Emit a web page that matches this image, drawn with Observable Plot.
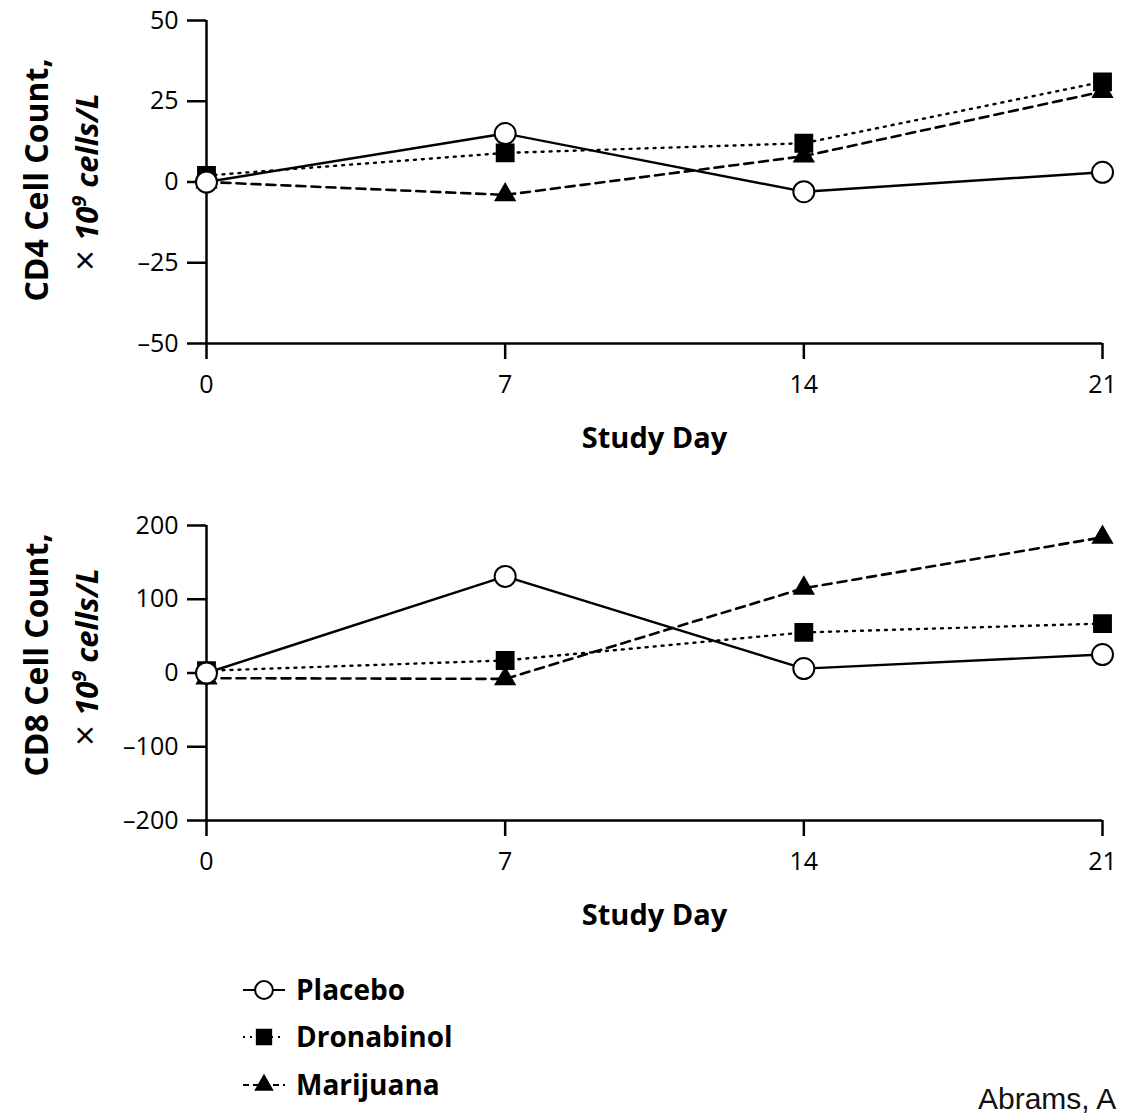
<!DOCTYPE html>
<html><head><meta charset="utf-8">
<script src="https://cdn.jsdelivr.net/npm/d3@7"></script>
<script src="https://cdn.jsdelivr.net/npm/@observablehq/plot@0.6"></script>
<style>
body{margin:0;background:#fff;}
#root{position:relative;width:1121px;height:1116px;overflow:hidden;background:#fff;font-family:"Open Sans",sans-serif;}
.chart{position:absolute;left:0;}
#caption{position:absolute;left:978px;top:1084px;font-family:"Liberation Sans",Arial,sans-serif;font-size:30px;white-space:nowrap;color:#111;line-height:1;}
</style></head><body><div id="root"></div>
<script>
// ---- data ----
const days = [0, 7, 14, 21];
const dayTicks = [0, 7, 14, 21];
const seriesNames = ["Placebo", "Dronabinol", "Marijuana"];
const cd4Placebo    = [0, 15, -3, 3];
const cd4Dronabinol = [2, 9, 12, 31];
const cd4Marijuana  = [0, -4, 8, 28];
const cd8Placebo    = [0, 131, 6, 25];
const cd8Dronabinol = [3, 17, 55, 67];
const cd8Marijuana  = [-7, -8, 115, 184];
const cd4Ticks = [-50, -25, 0, 25, 50];
const cd8Ticks = [-200, -100, 0, 100, 200];
const xLabel = "Study Day";
const caption = "Abrams, A";

// ---- styles ----
const styles = {
  Placebo:    {dash: null,  width: 2.4, symbol: "circle",   fill: "white", r: 10.5},
  Dronabinol: {dash: "2,6", width: 2.4, symbol: "square",   fill: "black", r: 9.5},
  Marijuana:  {dash: "9,6", width: 2.6, symbol: "triangle", fill: "black", r: 7}
};
const drawOrder = ["Marijuana", "Dronabinol", "Placebo"];
const FONT = "Open Sans, sans-serif";

function makeChart(values, yTicks, opt) {
  const data = [];
  seriesNames.forEach((name, i) => days.forEach((d, j) => data.push({series: name, day: d, value: values[i][j]})));
  const ymin = d3.min(yTicks), ymax = d3.max(yTicks);
  const marks = [
    Plot.ruleY([ymin], {x1: 0, x2: 21, stroke: "black", strokeWidth: 2.5}),
    Plot.ruleX([0], {y1: ymin, y2: ymax, stroke: "black", strokeWidth: 2.5}),
    Plot.axisY({ticks: yTicks, tickSize: 19, tickPadding: 9, fontSize: 25, strokeWidth: 2.5, label: null,
      tickFormat: d => d < 0 ? "\u2013" + (-d) : String(d)}),
    Plot.axisX({ticks: dayTicks, tickSize: 16, tickPadding: 16, fontSize: 25, strokeWidth: 2.5, label: null}),
    Plot.text([xLabel], {frameAnchor: "bottom", dy: 104, fontSize: 29, fontWeight: "bold"})
  ];
  for (const name of drawOrder) {
    const st = styles[name];
    marks.push(Plot.line(data.filter(r => r.series === name),
      {x: "day", y: "value", stroke: "black", strokeWidth: st.width, strokeDasharray: st.dash}));
  }
  for (const name of drawOrder) {
    const st = styles[name];
    marks.push(Plot.dot(data.filter(r => r.series === name),
      {x: "day", y: "value", symbol: () => st.symbol, r: st.r, fill: st.fill, stroke: "black", strokeWidth: 2}));
  }
  const svg = Plot.plot({
    width: 1121, height: opt.height,
    marginLeft: 206, marginRight: 19, marginTop: opt.marginTop, marginBottom: opt.marginBottom,
    x: {domain: [0, 21]}, y: {domain: [ymin, ymax]},
    symbol: {type: "identity"},
    style: {fontFamily: FONT, color: "black", background: "white", overflow: "visible"},
    marks
  });
  const s = d3.select(svg);
  s.append("text")
    .attr("transform", `translate(48,${opt.labelY}) rotate(-90)`)
    .attr("text-anchor", "middle").attr("font-family", FONT)
    .attr("font-size", 32).attr("font-weight", "bold").attr("fill", "black")
    .text(opt.title);
  const t2 = s.append("text")
    .attr("transform", `translate(98,${opt.labelY + 2}) rotate(-90)`)
    .attr("text-anchor", "middle").attr("font-family", FONT)
    .attr("font-size", 31).attr("font-weight", "bold").attr("fill", "black");
  t2.append("tspan").attr("font-weight", "normal").attr("font-size", 36).text("\u00d7 ");
  t2.append("tspan").attr("font-style", "italic").text("10");
  t2.append("tspan").attr("font-style", "italic").attr("font-size", 20).attr("dy", -12).text("9");
  t2.append("tspan").attr("font-style", "italic").attr("dy", 12).text(" cells/L");
  svg.classList.add("chart");
  svg.style.top = opt.top + "px";
  return svg;
}

const root = document.getElementById("root");
root.append(makeChart([cd4Placebo, cd4Dronabinol, cd4Marijuana], cd4Ticks,
  {top: 0, height: 470, marginTop: 20, marginBottom: 127, labelY: 180, title: "CD4 Cell Count,"}));
root.append(makeChart([cd8Placebo, cd8Dronabinol, cd8Marijuana], cd8Ticks,
  {top: 500, height: 450, marginTop: 25, marginBottom: 130, labelY: 155, title: "CD8 Cell Count,"}));

// ---- legend ----
const lg = d3.select(root).append("svg")
  .attr("width", 600).attr("height", 156)
  .style("position", "absolute").style("left", "0px").style("top", "960px");
const legendRows = [30, 77, 125];
seriesNames.forEach((name, i) => {
  const st = styles[name], y = legendRows[i];
  lg.append("line").attr("x1", 243).attr("x2", 285).attr("y1", y).attr("y2", y)
    .attr("stroke", "black").attr("stroke-width", 2.2).attr("stroke-dasharray", name === "Placebo" ? null : (name === "Dronabinol" ? "2,5" : "6,4"));
  const sym = {circle: d3.symbolCircle, square: d3.symbolSquare, triangle: d3.symbolTriangle}[st.symbol];
  const size = Math.PI * Math.pow(st.r * 0.85, 2);
  lg.append("path").attr("d", d3.symbol(sym, size)()).attr("transform", `translate(264,${y})`)
    .attr("fill", st.fill).attr("stroke", "black").attr("stroke-width", 2);
  lg.append("text").attr("x", 296).attr("y", y + 10).attr("font-family", FONT)
    .attr("font-size", 28).attr("font-weight", "bold").attr("fill", "black").text(name);
});

const cap = document.createElement("div");
cap.id = "caption";
cap.textContent = caption;
root.append(cap);
</script>
</body></html>
